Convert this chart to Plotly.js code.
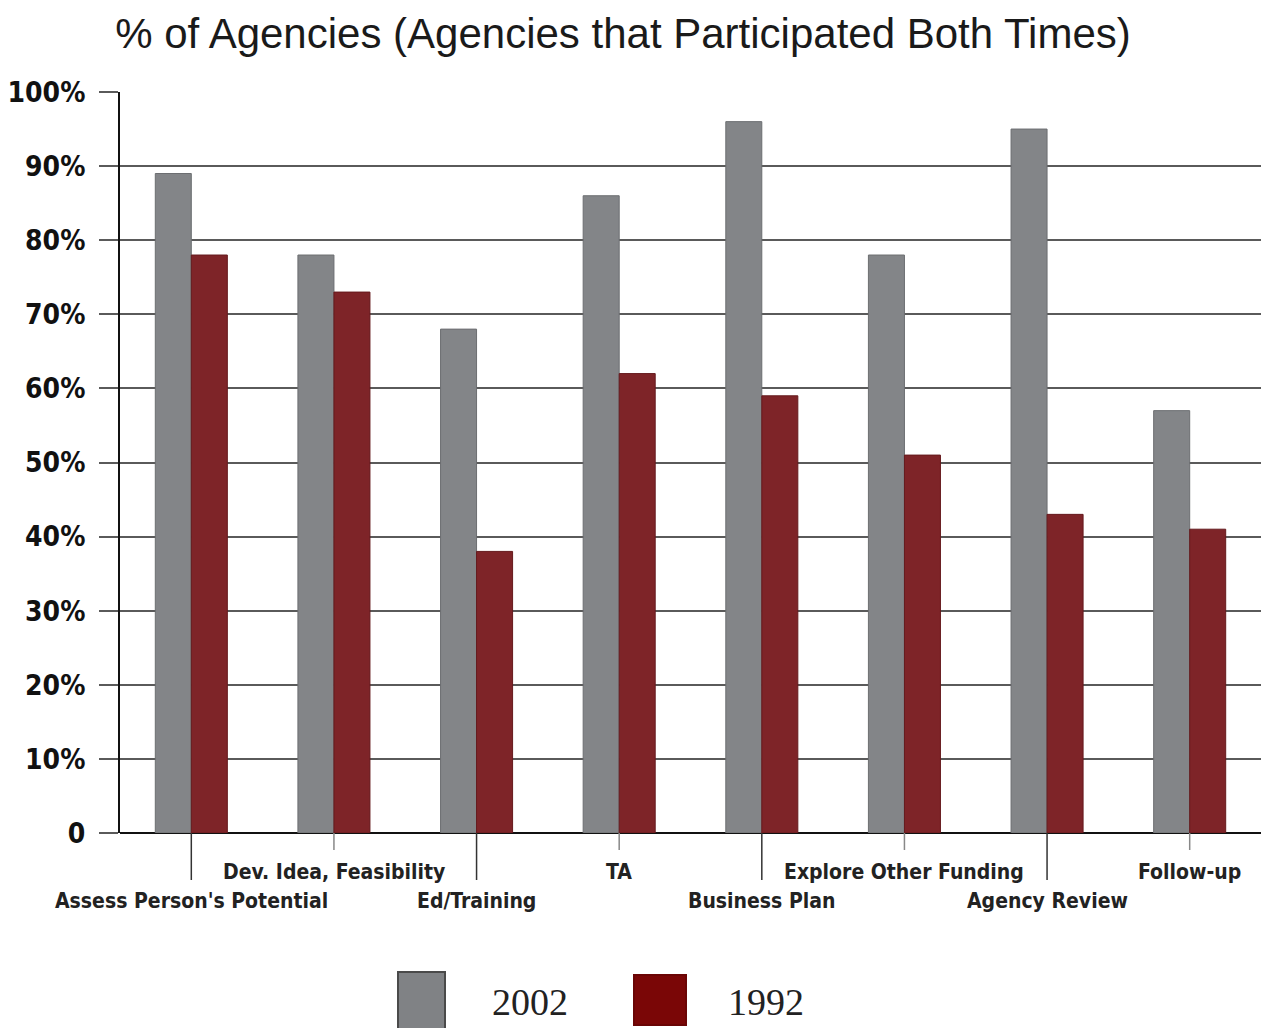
<!DOCTYPE html>
<html>
<head>
<meta charset="utf-8">
<script src="https://cdn.plot.ly/plotly-3.0.1.min.js"></script>
<style>html,body{margin:0;padding:0;background:#fff;}#chart{width:1267px;height:1028px;}</style>
</head>
<body>
<div id="chart"></div>
<script>
const categories = ["Assess Person's Potential", "Dev. Idea, Feasibility", "Ed/Training", "TA", "Business Plan", "Explore Other Funding", "Agency Review", "Follow-up"];
const values2002 = [89, 78, 68, 86, 96, 78, 95, 57];
const values1992 = [78, 73, 38, 62, 59, 51, 43, 41];
const seriesNames = ["2002", "1992"];
const yTickVals = [0, 10, 20, 30, 40, 50, 60, 70, 80, 90, 100];
const yTickText = ["0", "10%", "20%", "30%", "40%", "50%", "60%", "70%", "80%", "90%", "100%"];
const chartTitle = "% of Agencies (Agencies that Participated Both Times)";

const colors = ["#838588", "#7e2428"];
const legendColors = ["#808285", "#7a0606"];
const narrow = "'DejaVu Sans Condensed', 'Liberation Sans Narrow', sans-serif";

const traces = [
  {type: "bar", name: seriesNames[0], x: categories, y: values2002,
   marker: {color: colors[0], line: {color: "#6c6e71", width: 1}}},
  {type: "bar", name: seriesNames[1], x: categories, y: values1992,
   marker: {color: colors[1], line: {color: "#651a1d", width: 1}}}
];

const plotH = 1028 - 92 - 195;
const plotW = 1267 - 120 - 6;
const px2y = p => -p / plotH;

const shapes = [];
const annotations = [];
categories.forEach((c, i) => {
  const lower = i % 2 === 0;
  shapes.push({type: "line", xref: "x", yref: "paper", x0: c, x1: c, y0: 0,
    y1: px2y(lower ? 47 : 17), line: {color: lower ? "#333" : "#888", width: 1.5}});
  annotations.push({xref: "x", yref: "paper", x: c, y: px2y(lower ? 68 : 39),
    text: "<b>" + c + "</b>", showarrow: false, xanchor: "center", yanchor: "middle",
    font: {family: narrow, size: 21, color: "#222"}});
});

// custom legend
const legendBoxes = [[398, 445, 972, 1030], [634, 686, 975, 1025]];
const legendText = [490, 726];
seriesNames.forEach((n, i) => {
  const b = legendBoxes[i];
  shapes.push({type: "rect", xref: "paper", yref: "paper",
    x0: (b[0] - 120) / plotW, x1: (b[1] - 120) / plotW,
    y0: px2y(b[2] - 833), y1: px2y(b[3] - 833),
    fillcolor: legendColors[i], line: {color: i === 0 ? "#4a4a4a" : "#6a0505", width: 2}});
  annotations.push({xref: "paper", yref: "paper", x: (legendText[i] - 120) / plotW,
    y: px2y(1002 - 833), text: n, showarrow: false, xanchor: "left", yanchor: "middle",
    font: {family: "'Liberation Serif', 'Times New Roman', serif", size: 38, color: "#222"}});
});

const layout = {
  width: 1267, height: 1028,
  margin: {l: 120, r: 6, t: 92, b: 195},
  paper_bgcolor: "#fff", plot_bgcolor: "#fff",
  showlegend: false,
  barmode: "group", bargap: 0.495, bargroupgap: 0,
  title: {text: chartTitle, x: 623 / 1267, xref: "container", xanchor: "center",
    y: 1 - 33 / 1028, yref: "container", yanchor: "middle",
    font: {family: "'Liberation Sans', Arial, sans-serif", size: 42, color: "#1a1a1a"}},
  xaxis: {type: "category", range: [-0.5, 7.5], showticklabels: false, ticks: "",
    showgrid: false, zeroline: false, showline: false, fixedrange: true},
  yaxis: {range: [0, 100], tickvals: yTickVals, ticktext: yTickText,
    showgrid: true, gridcolor: "#5a5a5a", gridwidth: 2,
    zeroline: true, zerolinecolor: "#111", zerolinewidth: 2,
    showline: true, linecolor: "#111", linewidth: 2,
    ticks: "outside", ticklen: 19, tickcolor: "#5a5a5a", tickwidth: 2,
    ticklabelstandoff: 8,
    tickfont: {family: narrow, size: 28, color: "#111", weight: "bold"}, fixedrange: true},
  shapes: shapes,
  annotations: annotations
};

Plotly.newPlot("chart", traces, layout, {displayModeBar: false, staticPlot: true});
</script>
</body>
</html>
